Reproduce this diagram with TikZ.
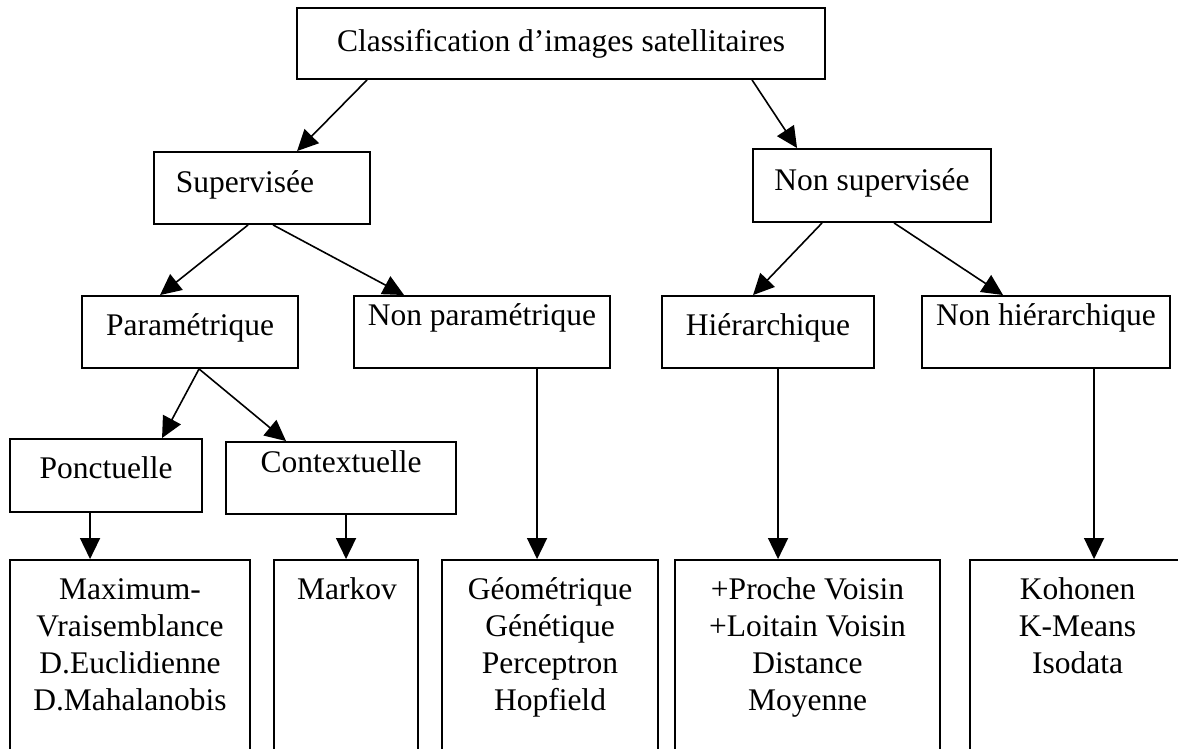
\documentclass[tikz,border=0pt]{standalone}
\usepackage{fontspec}
\setmainfont{Liberation Serif}
\usetikzlibrary{arrows.meta}
\begin{document}
\begin{tikzpicture}[x=1pt,y=-1pt,
  box/.style={draw,line width=1.9pt,inner sep=0pt},
  lbl/.style={inner sep=0pt,anchor=base,font=\fontsize{31.5}{37}\selectfont,align=center},
  arr/.style={line width=1.6pt,-{Triangle[length=21pt,width=20pt]}}]
\clip (0,0) rectangle (1178,749);
\fill[white] (0,0) rectangle (1178,749);
% boxes
\node[box,minimum width=528pt,minimum height=71pt] (top) at (561,43.5) {};
\node[box,minimum width=216pt,minimum height=72pt] (sup) at (262,188) {};
\node[box,minimum width=238pt,minimum height=73pt] (nonsup) at (872,185.5) {};
\node[box,minimum width=216pt,minimum height=72pt] (param) at (190,332) {};
\node[box,minimum width=256pt,minimum height=72pt] (nonparam) at (482,332) {};
\node[box,minimum width=212pt,minimum height=72pt] (hier) at (768,332) {};
\node[box,minimum width=248pt,minimum height=72pt] (nonhier) at (1046,332) {};
\node[box,minimum width=192pt,minimum height=73pt] (ponct) at (106,475.5) {};
\node[box,minimum width=230pt,minimum height=72pt] (context) at (341,478) {};
\node[box,minimum width=240pt,minimum height=240pt] (b1) at (130,680) {};
\node[box,minimum width=144pt,minimum height=240pt] (markov) at (346,680) {};
\node[box,minimum width=216pt,minimum height=240pt] (geom) at (550,680) {};
\node[box,minimum width=265pt,minimum height=240pt] (proche) at (807.5,680) {};
\node[box,minimum width=215pt,minimum height=240pt] (koh) at (1077.5,680) {};
% labels
\node[lbl] (toptxt) at (561,52) {Classification d’images satellitaires};
\node[lbl] (suptxt) at (245,192) {Supervisée};
\node[lbl] (nonsuptxt) at (872,190) {Non supervisée};
\node[lbl] (paramtxt) at (190,335) {Paramétrique};
\node[lbl] (nonparamtxt) at (482,325) {Non paramétrique};
\node[lbl] (hiertxt) at (768,335) {Hiérarchique};
\node[lbl] (nonhiertxt) at (1046,325) {Non hiérarchique};
\node[lbl] (poncttxt) at (106,478) {Ponctuelle};
\node[lbl] (contexttxt) at (341,472) {Contextuelle};
\node[lbl] (b1txt) at (130,710) {Maximum-\\Vraisemblance\\D.Euclidienne\\D.Mahalanobis};
\node[lbl] (markovtxt) at (347,599) {Markov};
\node[lbl] (geomtxt) at (550,710) {Géométrique\\Génétique\\Perceptron\\Hopfield};
\node[lbl] (prochetxt) at (807.5,710) {+Proche Voisin\\+Loitain Voisin\\Distance\\Moyenne};
\node[lbl] (kohtxt) at (1077.5,673) {Kohonen\\K-Means\\Isodata};
% connectors
\draw[arr] ([xshift=71pt]top.south west) -- ([xshift=144pt]sup.north west);
\draw[arr] ([xshift=456pt]top.south west) -- ([xshift=45pt]nonsup.north west);
\draw[arr] ([xshift=95pt]sup.south west) -- ([xshift=79pt]param.north west);
\draw[arr] ([xshift=120pt]sup.south west) -- ([xshift=51pt]nonparam.north west);
\draw[arr] ([xshift=70pt]nonsup.south west) -- ([xshift=92pt]hier.north west);
\draw[arr] ([xshift=142pt]nonsup.south west) -- ([xshift=82pt]nonhier.north west);
\draw[arr] ([xshift=118pt]param.south west) -- ([xshift=153pt]ponct.north west);
\draw[arr] ([xshift=118pt]param.south west) -- ([xshift=61pt]context.north west);
\draw[arr] ([xshift=81pt]ponct.south west) -- ([xshift=81pt]b1.north west);
\draw[arr] ([xshift=121pt]context.south west) -- ([xshift=73pt]markov.north west);
\draw[arr] ([xshift=184pt]nonparam.south west) -- ([xshift=96pt]geom.north west);
\draw[arr] ([xshift=117pt]hier.south west) -- ([xshift=104pt]proche.north west);
\draw[arr] ([xshift=173pt]nonhier.south west) -- ([xshift=125pt]koh.north west);
\end{tikzpicture}
\end{document}
